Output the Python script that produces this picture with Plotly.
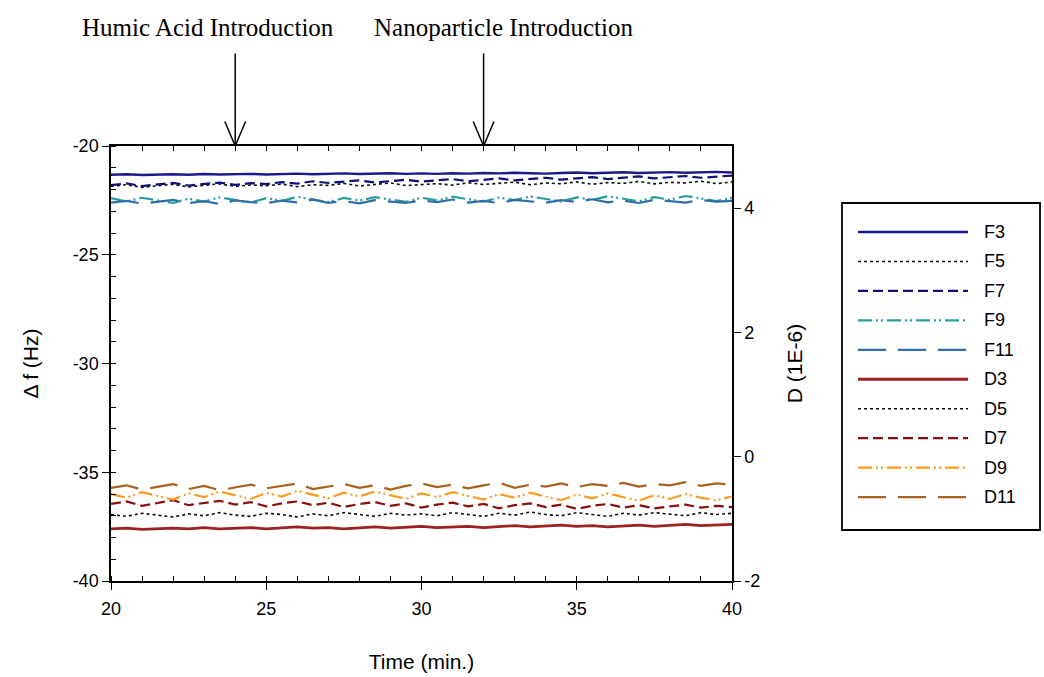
import plotly.graph_objects as go

time = [20.0, 20.5, 21.0, 21.5, 22.0, 22.5, 23.0, 23.5, 24.0, 24.5, 25.0, 25.5, 26.0, 26.5,
        27.0, 27.5, 28.0, 28.5, 29.0, 29.5, 30.0, 30.5, 31.0, 31.5, 32.0, 32.5, 33.0, 33.5,
        34.0, 34.5, 35.0, 35.5, 36.0, 36.5, 37.0, 37.5, 38.0, 38.5, 39.0, 39.5, 40.0]

# Frequency shifts (Hz), left axis
F3 = [-21.32, -21.30, -21.33, -21.31, -21.30, -21.32, -21.29, -21.31, -21.30, -21.28, -21.31,
      -21.29, -21.27, -21.30, -21.28, -21.26, -21.29, -21.27, -21.25, -21.28, -21.26, -21.28,
      -21.25, -21.27, -21.24, -21.26, -21.23, -21.25, -21.27, -21.24, -21.22, -21.25, -21.23,
      -21.21, -21.24, -21.22, -21.20, -21.23, -21.21, -21.19, -21.22]
F5 = [-21.85, -21.78, -21.90, -21.82, -21.76, -21.88, -21.80, -21.74, -21.86, -21.79, -21.83,
      -21.75, -21.87, -21.78, -21.81, -21.72, -21.84, -21.77, -21.70, -21.82, -21.76, -21.73,
      -21.80, -21.69, -21.77, -21.72, -21.66, -21.78, -21.70, -21.74, -21.65, -21.76, -21.68,
      -21.72, -21.63, -21.74, -21.67, -21.70, -21.62, -21.73, -21.66]
F7 = [-21.80, -21.72, -21.84, -21.76, -21.70, -21.82, -21.74, -21.68, -21.79, -21.71, -21.75,
      -21.66, -21.73, -21.62, -21.70, -21.64, -21.58, -21.68, -21.60, -21.55, -21.64, -21.57,
      -21.52, -21.62, -21.54, -21.49, -21.58, -21.51, -21.46, -21.55, -21.48, -21.43, -21.52,
      -21.45, -21.40, -21.49, -21.42, -21.38, -21.46, -21.40, -21.36]
F9 = [-22.40, -22.55, -22.38, -22.50, -22.62, -22.42, -22.56, -22.36, -22.48, -22.60, -22.40,
      -22.52, -22.34, -22.47, -22.58, -22.39, -22.51, -22.35, -22.46, -22.57, -22.38, -22.50,
      -22.33, -22.45, -22.56, -22.37, -22.49, -22.32, -22.44, -22.55, -22.36, -22.48, -22.31,
      -22.43, -22.54, -22.35, -22.47, -22.30, -22.42, -22.53, -22.38]
F11 = [-22.60, -22.52, -22.65, -22.55, -22.48, -22.62, -22.54, -22.66, -22.50, -22.58, -22.63,
       -22.51, -22.59, -22.47, -22.61, -22.53, -22.64, -22.49, -22.57, -22.62, -22.50, -22.58,
       -22.46, -22.60, -22.52, -22.63, -22.48, -22.56, -22.61, -22.49, -22.57, -22.45, -22.59,
       -22.51, -22.62, -22.47, -22.55, -22.60, -22.48, -22.56, -22.52]

# Dissipation (1E-6), right axis
D3 = [-1.16, -1.15, -1.17, -1.16, -1.15, -1.16, -1.14, -1.16, -1.15, -1.14, -1.16, -1.15, -1.13,
      -1.15, -1.14, -1.16, -1.14, -1.13, -1.15, -1.14, -1.12, -1.14, -1.13, -1.12, -1.14, -1.12,
      -1.11, -1.13, -1.12, -1.10, -1.12, -1.11, -1.13, -1.11, -1.10, -1.12, -1.10, -1.09, -1.11,
      -1.10, -1.09]
D5 = [-0.93, -0.96, -0.91, -0.94, -0.97, -0.92, -0.95, -0.90, -0.94, -0.96, -0.91, -0.93, -0.97,
      -0.92, -0.95, -0.90, -0.93, -0.96, -0.91, -0.94, -0.92, -0.95, -0.90, -0.93, -0.96, -0.91,
      -0.94, -0.89, -0.93, -0.95, -0.90, -0.93, -0.96, -0.91, -0.94, -0.90, -0.92, -0.95, -0.90,
      -0.93, -0.91]
D7 = [-0.76, -0.72, -0.79, -0.74, -0.70, -0.78, -0.75, -0.71, -0.77, -0.73, -0.80, -0.75, -0.72,
      -0.78, -0.74, -0.81, -0.76, -0.73, -0.79, -0.75, -0.82, -0.77, -0.74, -0.80, -0.76, -0.83,
      -0.78, -0.75, -0.81, -0.77, -0.84, -0.79, -0.76, -0.82, -0.78, -0.83, -0.80, -0.77, -0.82,
      -0.79, -0.81]
D9 = [-0.60, -0.66, -0.57, -0.63, -0.69, -0.59, -0.65, -0.56, -0.62, -0.68, -0.58, -0.64, -0.55,
      -0.61, -0.67, -0.58, -0.64, -0.56, -0.62, -0.68, -0.59, -0.65, -0.57, -0.63, -0.69, -0.60,
      -0.66, -0.58, -0.64, -0.70, -0.61, -0.67, -0.59, -0.65, -0.71, -0.62, -0.68, -0.60, -0.66,
      -0.70, -0.64]
D11 = [-0.50, -0.46, -0.53, -0.48, -0.44, -0.52, -0.47, -0.54, -0.49, -0.45, -0.51, -0.47, -0.43,
       -0.52, -0.48, -0.44, -0.50, -0.46, -0.53, -0.47, -0.43, -0.49, -0.45, -0.51, -0.46, -0.42,
       -0.50, -0.45, -0.48, -0.43, -0.49, -0.44, -0.47, -0.42, -0.48, -0.44, -0.46, -0.41, -0.47,
       -0.43, -0.45]

series_names = ["F3", "F5", "F7", "F9", "F11", "D3", "D5", "D7", "D9", "D11"]
series_values = [F3, F5, F7, F9, F11, D3, D5, D7, D9, D11]
series_axis = ["y", "y", "y", "y", "y", "y2", "y2", "y2", "y2", "y2"]
series_colors = ["#1a1a8e", "#111111", "#101078", "#2a9e9e", "#2f6ea8",
                 "#9c2222", "#111111", "#8a1010", "#ff9a20", "#a8621c"]
series_dash = ["solid", "dot", "10px,5px", "14px,4px,2px,3px,2px,4px", "28px,12px",
               "solid", "dot", "10px,5px", "14px,4px,2px,3px,2px,4px", "28px,12px"]
series_width = [2.4, 1.6, 2.2, 2.2, 2.2, 2.8, 1.6, 2.2, 2.2, 2.2]

y_ticks = [-40, -35, -30, -25, -20]
y_ticklabels = ["-40", "-35", "-30", "-25", "-20"]
y2_ticks = [-2, 0, 2, 4]
y2_ticklabels = ["-2", "0", "2", "4"]
x_ticks = [20, 25, 30, 35, 40]

annot_times = [24, 32]
annot_texts = ["Humic Acid Introduction", "Nanoparticle Introduction"]

W, H = 1044, 677
L, R, T, B = 111, 732, 146, 581


def px2x(px):
    return (px - L) / (R - L)


def px2y(py):
    return (B - py) / (B - T)


fig = go.Figure()
draw_order = [5, 6, 7, 8, 9, 3, 4, 1, 2, 0]
for i in draw_order:
    fig.add_trace(go.Scatter(
        x=time, y=series_values[i], name=series_names[i], yaxis=series_axis[i],
        mode="lines", showlegend=False,
        line=dict(color=series_colors[i], dash=series_dash[i], width=series_width[i]),
    ))

axis_font = dict(family="Liberation Sans, Arial, sans-serif", size=18, color="black")
title_font = dict(family="Liberation Sans, Arial, sans-serif", size=21, color="black")

shapes = []
annotations = []

# custom legend box
shapes.append(dict(type="rect", xref="paper", yref="paper",
                   x0=px2x(842), x1=px2x(1040), y0=px2y(530), y1=px2y(203),
                   line=dict(color="black", width=1.8), fillcolor="white", layer="below"))
for k, name in enumerate(series_names):
    yy = px2y(232 + k * 29.45)
    shapes.append(dict(type="line", xref="paper", yref="paper",
                       x0=px2x(858), x1=px2x(968), y0=yy, y1=yy,
                       line=dict(color=series_colors[k], dash=series_dash[k],
                                 width=series_width[k])))
    annotations.append(dict(x=px2x(982), y=yy, xref="paper", yref="paper", text=name,
                            showarrow=False, xanchor="left", yanchor="middle",
                            font=dict(family="Liberation Sans, Arial, sans-serif",
                                      size=18, color="black")))

# event arrows (shaft + open V head) and labels
text_centers = [208, 503]
for t, txt, cx in zip(annot_times, annot_texts, text_centers):
    for axo, ayo in [(0, -94), (-11, -26), (11, -26)]:
        annotations.append(dict(x=t, y=1, xref="x", yref="paper", text="", showarrow=True,
                                ax=axo, ay=ayo, arrowhead=0, arrowwidth=1.5,
                                arrowcolor="black", standoff=0, startstandoff=0))
    annotations.append(dict(x=px2x(cx), y=px2y(27), xref="paper", yref="paper", text=txt,
                            showarrow=False, xanchor="center", yanchor="middle",
                            font=dict(family="Liberation Serif, Times New Roman, serif",
                                      size=25, color="black")))

fig.update_layout(
    width=W, height=H,
    margin=dict(l=L, r=W - R, t=T, b=H - B, pad=0, autoexpand=False),
    paper_bgcolor="white", plot_bgcolor="white",
    showlegend=False,
    xaxis=dict(range=[20, 40], tickmode="array", tickvals=x_ticks, automargin=False,
               ticks="outside", ticklen=7, tickwidth=1.3, ticklabelstandoff=4,
               tickcolor="black", showline=True, linecolor="black", linewidth=1.5,
               showgrid=False, zeroline=False, tickfont=axis_font,
               minor=dict(dtick=1, ticks="inside", ticklen=5, tickcolor="black",
                          tickwidth=1.2, showgrid=False),
               title=dict(text="Time (min.)", font=title_font, standoff=36)),
    xaxis2=dict(range=[20, 40], overlaying="x", side="top", anchor="y", dtick=1,
                ticks="inside", ticklen=5, tickwidth=1.2, tickcolor="black",
                showticklabels=False, showline=True, linecolor="black", linewidth=1.5,
                showgrid=False, zeroline=False, automargin=False),
    yaxis=dict(range=[-40, -20], tickmode="array", tickvals=y_ticks, ticktext=y_ticklabels,
               ticks="outside", ticklen=7, automargin=False,
               tickwidth=1.3, tickcolor="black", showline=True, linecolor="black",
               linewidth=1.5, showgrid=False, zeroline=False, tickfont=axis_font,
               minor=dict(dtick=1, ticks="inside", ticklen=5, tickcolor="black",
                          tickwidth=1.2, showgrid=False),
               title=dict(text="Δ f (Hz)", font=title_font, standoff=28)),
    yaxis2=dict(range=[-2, 5], tickmode="array", tickvals=y2_ticks, ticktext=y2_ticklabels,
                overlaying="y", side="right", anchor="x", automargin=False,
                ticks="outside", ticklen=7, tickwidth=1.3, tickcolor="black",
                showline=True, linecolor="black", linewidth=1.5, showgrid=False,
                zeroline=False, tickfont=axis_font,
                title=dict(text="D (1E-6)", font=title_font, standoff=28)),
    shapes=shapes,
    annotations=annotations,
)

# invisible trace so the top axis is rendered
fig.add_trace(go.Scatter(x=[20, 40], y=[-40, -40], xaxis="x2", mode="lines",
                         line=dict(width=0), hoverinfo="skip", showlegend=False))

fig.write_html("out.html")
